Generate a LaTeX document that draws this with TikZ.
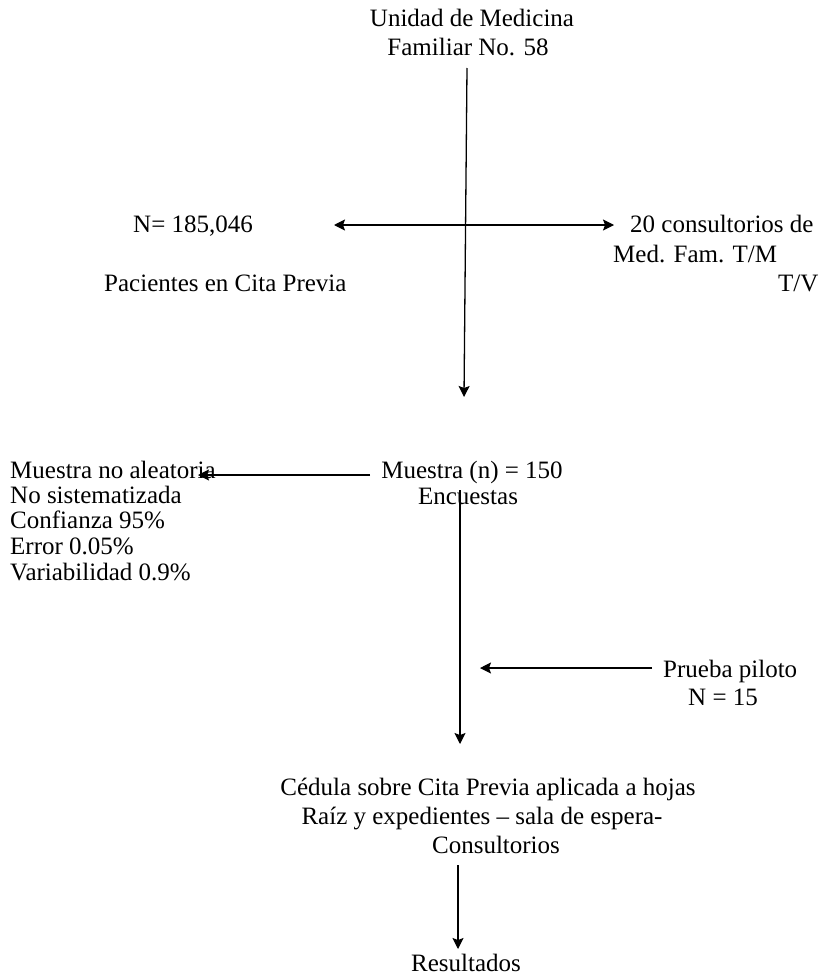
\documentclass[tikz,border=0pt]{standalone}
\usepackage{fontspec}
\setmainfont{Liberation Serif}
\usetikzlibrary{arrows.meta}
\tikzset{
  txt/.style={inner sep=0pt, font=\fontsize{25}{30}\selectfont},
  lt/.style={txt, anchor=base west},
  ct/.style={txt, anchor=base},
  tip/.tip={Stealth[length=11pt,width=11pt,inset=2pt]},
  conn/.style={line width=1.3pt, -tip},
  dconn/.style={line width=1.3pt, tip-tip}
}
\begin{document}
\begin{tikzpicture}[x=1pt,y=-1pt]
\fill[white] (0,0) rectangle (824,977);
\useasboundingbox (0,0) rectangle (824,977);

% top
\node[ct] (umf1) at (472,27) {Unidad de Medicina};
\node[ct] (umf2) at (468,55) {Familiar No. 58};

% middle row
\node[lt] (pobN) at (133,232) {N= 185,046};
\node[lt] (pac) at (104,291) {Pacientes en Cita Previa};
\node[lt] (cons1) at (630,232) {20 consultorios de};
\node[lt] (cons2) at (613,262) {Med. Fam. T/M};
\node[lt] (cons3) at (778,291) {T/V};

% muestra
\node[ct] (mue1) at (472,478) {Muestra (n) = 150};
\node[ct] (mue2) at (468,504) {Encuestas};

\node[lt] (ma1) at (10,478) {Muestra no aleatoria};
\node[lt] (ma2) at (10,503) {No sistematizada};
\node[lt] (ma3) at (10,528) {Confianza 95\%};
\node[lt] (ma4) at (10,554) {Error 0.05\%};
\node[lt] (ma5) at (10,580) {Variabilidad 0.9\%};

% prueba piloto
\node[lt] (pp1) at (663,677) {Prueba piloto};
\node[lt] (pp2) at (688,705) {N = 15};

% cedula
\node[ct] (ced1) at (488,795) {Cédula sobre Cita Previa aplicada a hojas};
\node[ct] (ced2) at (482,824) {Raíz y expedientes – sala de espera-};
\node[ct] (ced3) at (496,853) {Consultorios};

\node[ct] (res) at (466,971) {Resultados};

% connector end points
\coordinate (v1s) at (467,68);
\coordinate (v1e) at (464,397);
\coordinate (hL) at (334,225);
\coordinate (hR) at (614,225);
\coordinate (mL) at (198,475);
\coordinate (mR) at (370,475);
\coordinate (v2s) at (460,490);
\coordinate (v2e) at (460,744);
\coordinate (pR) at (652,668);
\coordinate (pL) at (480,668);
\coordinate (v3s) at (458,865);
\coordinate (v3e) at (458,949);

\draw[conn] (v1s) -- (v1e);
\draw[dconn] (hL) -- (hR);
\draw[conn] (mR) -- (mL);
\draw[conn] (v2s) -- (v2e);
\draw[conn] (pR) -- (pL);
\draw[conn] (v3s) -- (v3e);
\end{tikzpicture}
\end{document}
